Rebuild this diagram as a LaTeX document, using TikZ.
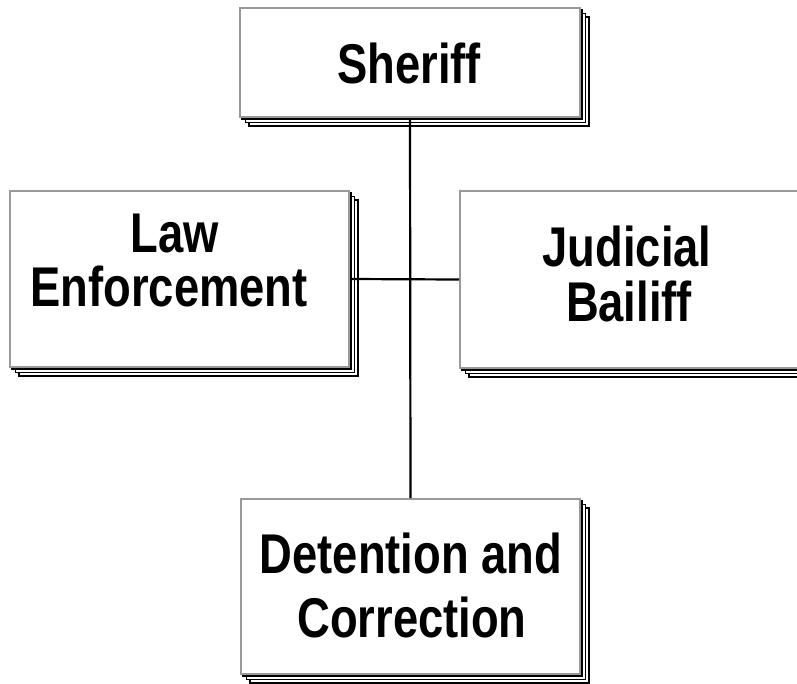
\documentclass[tikz,border=0pt]{standalone}
\usepackage{fontspec}
\setmainfont{Liberation Sans}[FakeStretch=0.81]
\newcommand\pagestack[4]{%
  \foreach \k in {3,2,1}
    \draw[stackline] ({#1+3.3*\k},{#2+3.3*\k}) rectangle ({#3+3.3*\k},{#4+3.3*\k});%
}
\begin{document}
\begin{tikzpicture}[x=1pt,y=-1pt,
  card/.style={draw=black!40, line width=2pt, fill=white, rectangle, inner sep=0pt, anchor=north west},
  stackline/.style={draw=black, line width=1.7pt, fill=white},
  lbl/.style={font=\bfseries\fontsize{56}{60}\selectfont, inner sep=0pt, anchor=base},
  link/.style={line width=2.2pt, draw=black}]
\useasboundingbox (0,0) rectangle (797,683);
\clip (0,0) rectangle (797,683);
% shadows (stacked pages)
\pagestack{239}{7}{579}{116}
\pagestack{9}{190}{348}{366}
\pagestack{459}{190}{830}{367}
\pagestack{240}{498}{579}{673}
% boxes
\node[card, minimum width=340pt, minimum height=109pt] (sheriff) at (239,7) {};
\node[card, minimum width=339pt, minimum height=176pt] (law) at (9,190) {};
\node[card, minimum width=371pt, minimum height=177pt] (judicial) at (459,190) {};
\node[card, minimum width=339pt, minimum height=175pt] (detention) at (240,498) {};
% connectors
\draw[link] (sheriff.south) -- (detention.north);
\draw[link] (law.east) -- (judicial.west);
% labels
\node[lbl] (t1) at (409,83) {Sheriff};
\node[lbl] (t2) at (175,252) {Law};
\node[lbl] (t3) at (169,306) {Enforcement};
\node[lbl] (t4) at (627,266) {Judicial};
\node[lbl] (t5) at (629,321) {Bailiff};
\node[lbl] (t6) at (411,573) {Detention and};
\node[lbl] (t7) at (412,637) {Correction};
\end{tikzpicture}
\end{document}
